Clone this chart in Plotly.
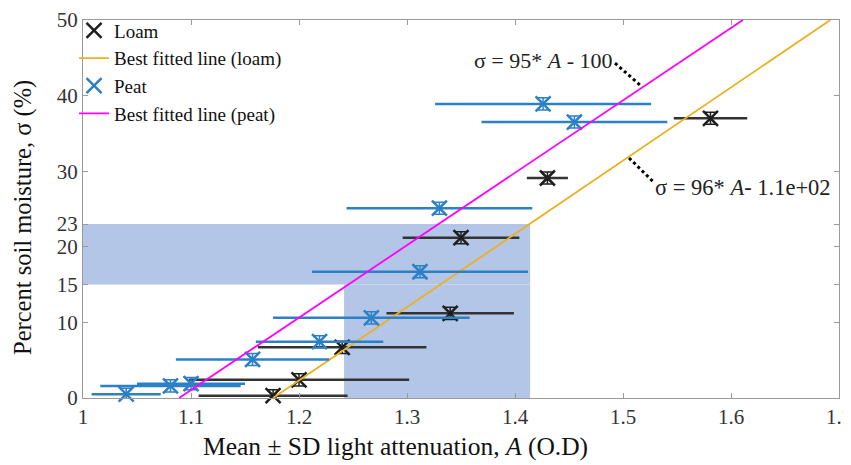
import plotly.graph_objects as go

# ---- data ----
loam_A = [1.176, 1.20, 1.240, 1.340, 1.350, 1.430, 1.581]
loam_sd = [0.069, 0.102, 0.078, 0.059, 0.054, 0.019, 0.034]
loam_m = [0.3, 2.4, 6.7, 11.2, 21.2, 29.1, 37.0]
loam_m_err = [0.8, 0.8, 0.8, 0.8, 0.8, 0.8, 0.8]

peat_A = [1.040, 1.081, 1.100, 1.157, 1.219, 1.267, 1.312, 1.330, 1.426, 1.455]
peat_sd = [0.032, 0.065, 0.050, 0.071, 0.059, 0.091, 0.100, 0.086, 0.100, 0.086]
peat_m = [0.5, 1.6, 1.9, 5.1, 7.45, 10.6, 16.7, 25.1, 38.9, 36.5]
peat_m_err = [0.8, 0.8, 0.8, 0.8, 0.8, 0.8, 0.8, 0.8, 0.8, 0.8]

fit_loam_A = [1.176, 1.692]
fit_loam_m = [0, 50]
fit_peat_A = [1.089, 1.611]
fit_peat_m = [0, 50]

x_ticks = [1, 1.1, 1.2, 1.3, 1.4, 1.5, 1.6, 1.7]
y_ticks = [0, 10, 15, 20, 23, 30, 40, 50]

# shaded regions (A range, moisture range)
band_upper = dict(x0=1.0, x1=1.414, y0=15, y1=23)
band_lower = dict(x0=1.2417, x1=1.414, y0=0, y1=15)

FONT = "Liberation Serif, Times New Roman, serif"
BLACK = "#1e1e1e"
BLUE = "#2c80c5"
SHADE = "#b3c6e7"

fig = go.Figure()

fig.add_trace(go.Scatter(
    x=loam_A, y=loam_m, mode="markers", name="Loam",
    marker=dict(symbol="x-thin-open", size=15, color=BLACK, line=dict(width=2.5, color=BLACK)),
    error_x=dict(type="data", array=loam_sd, color="#333333", thickness=2.5, width=0),
    error_y=dict(type="data", array=loam_m_err, color=BLACK, thickness=1.5, width=6),
    cliponaxis=False,
))
fig.add_trace(go.Scatter(
    x=fit_loam_A, y=fit_loam_m, mode="lines", name="Best fitted line (loam)",
    line=dict(color="#EDB120", width=1.8),
))
fig.add_trace(go.Scatter(
    x=peat_A, y=peat_m, mode="markers", name="Peat",
    marker=dict(symbol="x-thin-open", size=15, color=BLUE, line=dict(width=2.5, color=BLUE)),
    error_x=dict(type="data", array=peat_sd, color=BLUE, thickness=2.5, width=0),
    error_y=dict(type="data", array=peat_m_err, color=BLUE, thickness=1.5, width=6),
    cliponaxis=False,
))
fig.add_trace(go.Scatter(
    x=fit_peat_A, y=fit_peat_m, mode="lines", name="Best fitted line (peat)",
    line=dict(color="#FF00FF", width=1.8),
))

for b in (band_upper, band_lower):
    fig.add_shape(type="rect", xref="x", yref="y", x0=b["x0"], x1=b["x1"], y0=b["y0"], y1=b["y1"],
                  fillcolor=SHADE, line=dict(width=0), layer="below")

# leader lines for the equations
fig.add_shape(type="line", xref="x", yref="y", x0=1.4926, y0=44.3, x1=1.5157, y1=41.4,
              line=dict(color="black", width=3, dash="dot"))
fig.add_shape(type="line", xref="x", yref="y", x0=1.5056, y0=31.75, x1=1.528, y1=28.6,
              line=dict(color="black", width=3, dash="dot"))

fig.add_annotation(x=1.4926, y=44.6, xref="x", yref="y", xanchor="right", yanchor="middle",
                   text="σ = 95* <i>A</i> - 100", showarrow=False,
                   font=dict(family=FONT, size=22, color="#222"))
fig.add_annotation(x=1.5278, y=27.8, xref="x", yref="y", xanchor="left", yanchor="middle",
                   text="σ = 96* <i>A</i>- 1.1e+02", showarrow=False,
                   font=dict(family=FONT, size=22.5, color="#222"))

# axis titles (placed as in the reference)
fig.add_annotation(x=0.4127, y=-0.127, xref="paper", yref="paper", xanchor="center", yanchor="middle",
                   text="Mean ± SD light attenuation, <i>A</i> (O.D)", showarrow=False,
                   font=dict(family=FONT, size=25.5, color="#111"))
fig.add_annotation(x=-0.0794, y=0.479, xref="paper", yref="paper", xanchor="center", yanchor="middle",
                   text="Percent soil moisture, σ (%)", showarrow=False, textangle=-90,
                   font=dict(family=FONT, size=24.5, color="#111"))

axis_common = dict(
    showgrid=False, zeroline=False, showline=True, mirror="ticks", linecolor="#9a9a9a", linewidth=1,
    ticks="inside", ticklen=5, tickcolor="#9a9a9a", automargin=False,
    tickfont=dict(family=FONT, size=21, color="#333"),
)
fig.update_xaxes(range=[1, 1.7], tickvals=x_ticks, ticktext=[f"{v:g}" for v in x_ticks],
                 **axis_common)
fig.update_yaxes(range=[0, 50], tickvals=y_ticks, ticktext=[str(v) for v in y_ticks],
                 **axis_common)

fig.update_layout(
    width=851, height=465,
    margin=dict(l=75, r=20, t=12, b=75, autoexpand=False),
    plot_bgcolor="white", paper_bgcolor="white",
    showlegend=True,
    legend=dict(x=0.0776, y=0.9925, xref="container", yref="container",
                xanchor="left", yanchor="top", bgcolor="rgba(0,0,0,0)",
                font=dict(family=FONT, size=19, color="#111"), itemwidth=30,
                tracegroupgap=0, traceorder="normal"),
)

fig.write_html("out.html")
